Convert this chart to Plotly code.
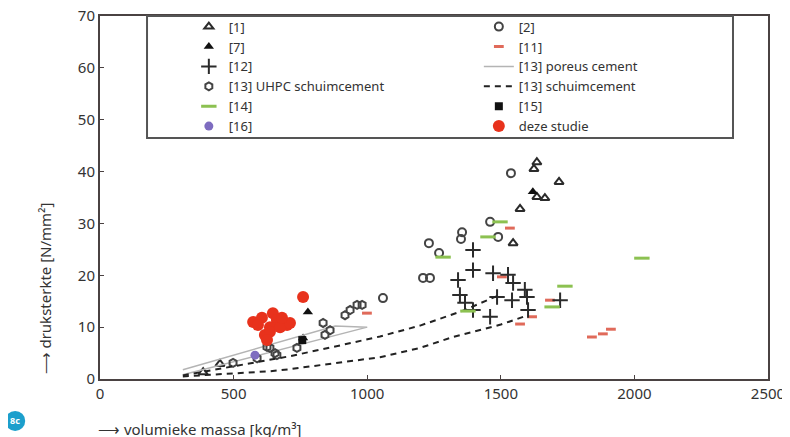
import plotly.graph_objects as go

# ---- data ----
ref1_x = [1635, 1624, 1718, 1572, 1546, 1635, 1665, 386, 449]
ref1_y = [41.8, 40.5, 38.0, 32.8, 26.2, 35.1, 34.9, 1.3, 2.9]

ref2_x = [1538, 1460, 1490, 1355, 1351, 1231, 1269, 1209, 1235, 1059]
ref2_y = [39.7, 30.3, 27.4, 28.3, 27.0, 26.2, 24.3, 19.5, 19.5, 15.6]

ref7_x = [1620, 778, 760]
ref7_y = [36.1, 12.9, 7.9]

ref11_x = [1504, 1684, 1617, 1572, 1841, 1882, 1912, 1534, 999]
ref11_y = [19.7, 15.2, 12.0, 10.6, 8.1, 8.7, 9.6, 29.1, 12.7]

ref12_x = [1396, 1396, 1340, 1471, 1527, 1546, 1347, 1366, 1396, 1486, 1542, 1590, 1598, 1460, 1722, 1602]
ref12_y = [24.9, 21.0, 19.1, 20.4, 20.1, 18.5, 16.2, 14.7, 13.3, 15.8, 15.2, 17.2, 15.8, 12.0, 15.2, 13.3]

poreus_x = [310, 880, 1000, 310]
poreus_y = [1.8, 10.2, 10.0, 0.8]

uhpc_x = [917, 936, 962, 981, 835, 842, 861, 636, 662, 625, 655, 588, 737, 498]
uhpc_y = [12.3, 13.3, 14.3, 14.3, 10.8, 8.5, 9.4, 6.0, 4.6, 6.2, 5.0, 4.0, 6.0, 3.1]

schuim_upper_x = [310, 636, 711, 900, 1048, 1198, 1350, 1500]
schuim_upper_y = [0.7, 3.7, 4.4, 6.5, 8.2, 10.3, 13.0, 16.3]
schuim_lower_x = [310, 636, 711, 900, 1048, 1198, 1321, 1500, 1602]
schuim_lower_y = [0.5, 1.5, 1.9, 3.2, 4.2, 6.0, 8.1, 10.5, 12.3]

ref14_x = [1497, 1452, 1284, 1740, 1692, 1377, 2028]
ref14_y = [30.3, 27.4, 23.5, 17.9, 13.9, 13.1, 23.3]

ref15_x = [757]
ref15_y = [7.5]

ref16_x = [580]
ref16_y = [4.6]

studie_x = [760, 573, 606, 647, 662, 700, 636, 617, 636, 674, 591, 711, 681, 625]
studie_y = [15.8, 11.0, 11.8, 12.7, 11.4, 10.4, 10.0, 8.5, 9.1, 10.0, 10.4, 10.8, 11.8, 7.5]

x_ticks = [0, 500, 1000, 1500, 2000, 2500]
y_ticks = [0, 10, 20, 30, 40, 50, 60, 70]

# ---- figure ----
fig = go.Figure()
dark = '#2b2b2b'

fig.add_trace(go.Scatter(x=ref1_x, y=ref1_y, mode='markers', name='[1]',
    marker=dict(symbol='triangle-up-open', size=8, color=dark, line=dict(width=2, color=dark))))
fig.add_trace(go.Scatter(x=ref2_x, y=ref2_y, mode='markers', name='[2]',
    marker=dict(symbol='circle-open', size=8, color='#444', line=dict(width=2, color='#444'))))
fig.add_trace(go.Scatter(x=ref7_x, y=ref7_y, mode='markers', name='[7]',
    marker=dict(symbol='triangle-up', size=9, color='#111')))
fig.add_trace(go.Scatter(x=ref11_x, y=ref11_y, mode='markers', name='[11]',
    marker=dict(symbol='line-ew', size=7, color='#e06a5a', line=dict(width=3, color='#e06a5a'))))
fig.add_trace(go.Scatter(x=ref12_x, y=ref12_y, mode='markers', name='[12]',
    marker=dict(symbol='cross-thin', size=11, color=dark, line=dict(width=2, color=dark))))
fig.add_trace(go.Scatter(x=poreus_x, y=poreus_y, mode='lines', name='[13] poreus cement',
    line=dict(color='#b4b4b4', width=1.5)))
fig.add_trace(go.Scatter(x=uhpc_x, y=uhpc_y, mode='markers', name='[13] UHPC schuimcement',
    marker=dict(symbol='hexagon-open', size=8, color='#444', line=dict(width=2, color='#444'))))
fig.add_trace(go.Scatter(x=schuim_upper_x + [None] + schuim_lower_x,
    y=schuim_upper_y + [None] + schuim_lower_y, mode='lines', name='[13] schuimcement',
    line=dict(color='#222', width=2, dash='6px,5px')))
fig.add_trace(go.Scatter(x=ref14_x, y=ref14_y, mode='markers', name='[14]',
    marker=dict(symbol='line-ew', size=11, color='#8cc151', line=dict(width=3, color='#8cc151'))))
fig.add_trace(go.Scatter(x=ref15_x, y=ref15_y, mode='markers', name='[15]',
    marker=dict(symbol='square', size=8, color='#111')))
fig.add_trace(go.Scatter(x=ref16_x, y=ref16_y, mode='markers', name='[16]',
    marker=dict(symbol='circle', size=9, color='#7e6cc0')))
fig.add_trace(go.Scatter(x=studie_x, y=studie_y, mode='markers', name='deze studie',
    marker=dict(symbol='circle', size=12, color='#e8321c')))

axis_common = dict(showgrid=False, zeroline=False, showline=True, mirror=True,
                   linecolor='#4a4242', linewidth=2, ticks='inside', ticklen=4,
                   tickcolor='#4a4242', tickfont=dict(size=15, color='#333'),
                   ticklabeloverflow='allow')
fig.update_xaxes(range=[0, 2500], tickvals=x_ticks, **axis_common)
fig.update_yaxes(range=[0, 70], tickvals=y_ticks, **axis_common)

# page body adds an 8px offset, so the figure is 8px smaller than the window
fig.update_layout(
    width=782, height=429,
    margin=dict(l=92, r=22, t=8, b=58, autoexpand=False),
    plot_bgcolor='white', paper_bgcolor='white',
    font=dict(family='Noto Sans', color='#333'),
    legend=dict(orientation='h', x=0.133, y=1.012, xanchor='left', yanchor='top',
                entrywidth=245, font=dict(size=13, color='#333'),
                bgcolor='rgba(0,0,0,0)', borderwidth=0,
                traceorder='normal'),
    shapes=[
        dict(type='rect', xref='paper', yref='paper', x0=0.0704, x1=0.9476, y0=0.664, y1=1.0,
             line=dict(color='#555', width=2), fillcolor='rgba(0,0,0,0)', layer='above'),
        dict(type='circle', xref='paper', yref='paper', x0=-0.142, x1=-0.112, y0=-0.143, y1=-0.088,
             line=dict(width=0), fillcolor='#1c9fcc'),
    ],
    annotations=[
        dict(text='⟶ volumieke massa [kg/m³]', xref='paper', yref='paper', x=-0.006, y=-0.137,
             xanchor='left', yanchor='middle', showarrow=False, font=dict(size=15, color='#333')),
        dict(text='⟶ druksterkte [N/mm²]', xref='paper', yref='paper', x=-0.082, y=0.25,
             xanchor='center', yanchor='middle', textangle=-90, showarrow=False,
             font=dict(size=15, color='#333')),
        dict(text='<b>8c</b>', xref='paper', yref='paper', x=-0.127, y=-0.1155,
             xanchor='center', yanchor='middle', showarrow=False, font=dict(size=9, color='white')),
    ],
)

fig.write_html('out.html')
